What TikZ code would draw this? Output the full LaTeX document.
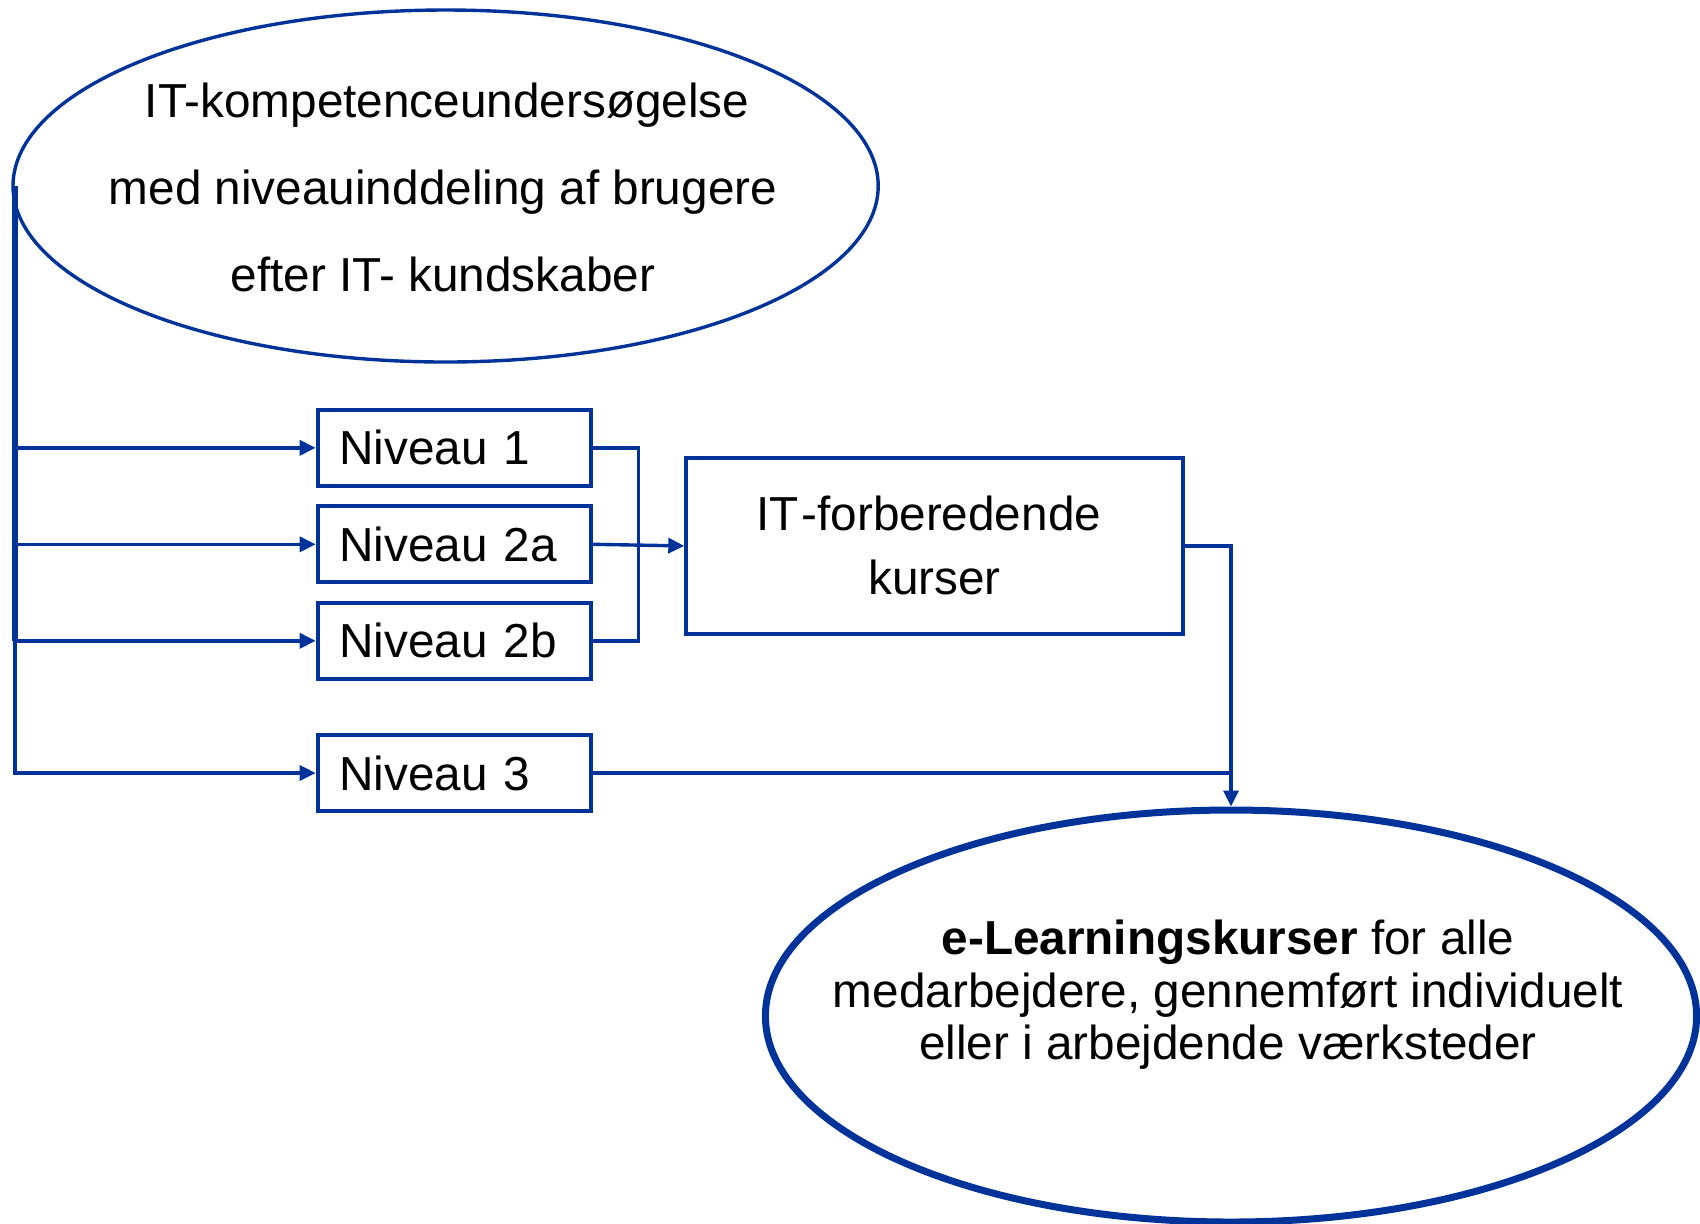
\documentclass[tikz,border=0pt]{standalone}
\usepackage{fontspec}
\setmainfont{Liberation Sans}
\usetikzlibrary{shapes.geometric,arrows.meta}
\definecolor{dblue}{RGB}{0,51,153}
\begin{document}
\begin{tikzpicture}[x=0.5pt,y=-0.5pt,
  conn/.style={draw=dblue,line width=1.7pt},
  arr/.style={conn,-{Triangle[length=8pt,width=7.5pt]}},
  lvlbox/.style={draw=dblue,line width=2pt,rectangle,minimum width=136.6pt,minimum height=38pt,
     inner xsep=10.8pt,inner ysep=0pt,text width=115pt,align=left,
     font=\fontsize{23.85pt}{28pt}\selectfont}
]
\useasboundingbox (0,0) rectangle (1700,1223);
% top ellipse
\node[ellipse,draw=dblue,line width=1.7pt,minimum width=432.6pt,minimum height=176pt,inner sep=0pt] (top) at (445.6,186) {};
\node[align=center,inner sep=0pt,font=\fontsize{23.85pt}{43.35pt}\selectfont] (toptxt) at (443,187.6)
  {IT-kompetenceundersøgelse\hspace*{-4pt}\\med niveauinddeling af brugere\hspace*{4pt}\\efter IT- kundskaber};
% level boxes
\node[lvlbox] (n1) at (454.3,447.8) {Niveau 1};
\node[lvlbox] (n2a) at (454.3,544.3) {Niveau 2a};
\node[lvlbox] (n2b) at (454.3,640.8) {Niveau 2b};
\node[lvlbox] (n3) at (454.3,773) {Niveau 3};
% IT-forberedende box
\node[draw=dblue,line width=2pt,rectangle,minimum width=248.3pt,minimum height=88.4pt,inner sep=0pt,
  align=center,font=\fontsize{23.85pt}{32pt}\selectfont] (itf) at (934.6,545.9)
  {IT\kern1.5pt-forberedende\hspace*{6pt}\\kurser};
% bottom ellipse
\node[ellipse,draw=dblue,line width=3.5pt,minimum width=465.6pt,minimum height=206pt,inner sep=0pt] (bot) at (1231,1016) {};
\node[align=center,inner sep=0pt,font=\fontsize{23.85pt}{26.3pt}\selectfont] (bottxt) at (1228,995)
  {\textbf{e-Learningskurser} for alle\\medarbejdere, gennemført individuelt\\eller i arbejdende værksteder};
% connectors from top ellipse
\coordinate (lft) at (15,186);
\draw[conn,line width=3pt] (lft) -- (lft |- n2b.west);
\draw[arr] (lft) |- (n1.west);
\draw[arr] (lft) |- (n2a.west);
\draw[arr] (lft) |- (n2b.west);
\draw[arr] (lft) |- (n3.west);
% bracket
\coordinate (br) at (638.6,600);
\draw[conn] (n1.east) -- (n1.east -| br) -- (n2b.east -| br) -- (n2b.east);
\draw[arr] (n2a.east) -- (itf.west);
% to bottom ellipse
\draw[arr] (itf.east) -| (bot.north);
\draw[conn] (n3.east) -- (n3.east -| bot.north);
\end{tikzpicture}
\end{document}
